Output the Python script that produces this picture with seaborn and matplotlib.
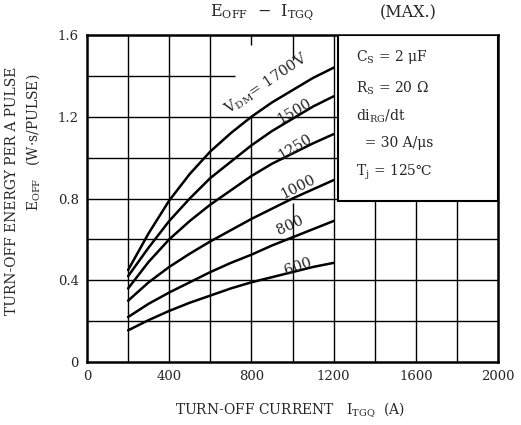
import matplotlib
matplotlib.use("Agg")
import matplotlib.pyplot as plt
import seaborn as sns
import pandas as pd
from matplotlib.patches import Rectangle

# ---- data ----
current = [200, 300, 400, 500, 600, 700, 800, 900, 1000, 1100, 1200]
e_1700 = [0.45, 0.63, 0.79, 0.92, 1.03, 1.12, 1.20, 1.27, 1.33, 1.39, 1.44]
e_1500 = [0.42, 0.56, 0.69, 0.80, 0.90, 0.98, 1.06, 1.13, 1.19, 1.25, 1.30]
e_1250 = [0.36, 0.49, 0.60, 0.69, 0.77, 0.84, 0.91, 0.97, 1.02, 1.07, 1.115]
e_1000 = [0.30, 0.39, 0.465, 0.53, 0.59, 0.645, 0.70, 0.75, 0.80, 0.845, 0.89]
e_800 = [0.22, 0.285, 0.34, 0.39, 0.44, 0.485, 0.525, 0.57, 0.61, 0.65, 0.69]
e_600 = [0.155, 0.205, 0.25, 0.29, 0.325, 0.36, 0.39, 0.415, 0.44, 0.465, 0.485]
voltages = ["1700", "1500", "1250", "1000", "800", "600"]
series = [e_1700, e_1500, e_1250, e_1000, e_800, e_600]
curve_labels = ["V$_{\\rm DM}$= 1700V", "1500", "1250", "1000", "800", "600"]
x_ticks = [0, 400, 800, 1200, 1600, 2000]
y_ticks = [0, 0.4, 0.8, 1.2, 1.6]
y_tick_labels = ["0", "0.4", "0.8", "1.2", "1.6"]
conditions = ["C$_{\\rm S}$ = 2 μF", "R$_{\\rm S}$ = 20 Ω", "di$_{\\rm RG}$/dt",
              "  = 30 A/μs", "T$_{\\rm j}$ = 125℃"]

rows = []
for v, s in zip(voltages, series):
    for i, e in zip(current, s):
        rows.append({"I": i, "E": e, "V": v})
df = pd.DataFrame(rows)

sns.set_style("white")
FONT = "DejaVu Serif"
plt.rcParams["font.family"] = [FONT]
plt.rcParams["mathtext.fontset"] = "custom"
plt.rcParams["mathtext.rm"] = FONT
plt.rcParams["mathtext.it"] = FONT

fig = plt.figure(figsize=(5.21, 4.25), dpi=100)
ax = fig.add_axes([87 / 521, 1 - 362 / 425, (498 - 87) / 521, (362 - 35) / 425])

sns.lineplot(data=df, x="I", y="E", hue="V", palette=["black"] * 6,
             legend=False, ax=ax, linewidth=1.8, zorder=4)

ax.set_xlim(0, 2000)
ax.set_ylim(0, 1.6)
ax.set_xticks(x_ticks)
ax.set_xticklabels([str(t) for t in x_ticks], fontsize=9.5)
ax.set_yticks(y_ticks)
ax.set_yticklabels(y_tick_labels, fontsize=9.5)
ax.tick_params(which="both", length=0, pad=6)
ax.grid(False)
for sp in ax.spines.values():
    sp.set_color("black")
    sp.set_linewidth(1.8)

# grid (as printed: a few segments erased around the curve labels)
gkw = dict(color="black", linewidth=1.0, zorder=1)
for k in range(1, 8):
    yy = 0.2 * k
    if abs(yy - 1.4) < 1e-6:
        ax.hlines(yy, 0, 720, **gkw)
    else:
        ax.hlines(yy, 0, 2000, **gkw)
for k in range(1, 10):
    xx = 200 * k
    if xx == 800:
        ax.vlines(xx, 0, 1.2, **gkw)
        ax.vlines(xx, 1.55, 1.6, **gkw)
    elif xx == 1000:
        ax.vlines(xx, 0, 0.78, **gkw)
        ax.vlines(xx, 1.48, 1.6, **gkw)
    else:
        ax.vlines(xx, 0, 1.6, **gkw)

# condition box
ax.add_patch(Rectangle((1221, 0.79), 779, 0.81, facecolor="white",
                       edgecolor="black", linewidth=1.5, zorder=3))
cond_y = [1.49, 1.34, 1.20, 1.07, 0.93]
for txt, yy in zip(conditions, cond_y):
    ax.text(1310, yy, txt, fontsize=10, va="center", ha="left", zorder=5)

# curve labels
lab_pos = [(870, 1.36, 34), (1010, 1.225, 30), (1010, 1.05, 31),
           (1025, 0.855, 27), (990, 0.67, 25), (1025, 0.465, 19)]
for txt, (xx, yy, rot) in zip(curve_labels, lab_pos):
    ax.text(xx, yy, txt, fontsize=10.5, rotation=rot, ha="center", va="center",
            rotation_mode="anchor", zorder=5)

ax.set_xlabel("")
ax.set_ylabel("")
fig.text(290 / 521, 1 - 410 / 425, "TURN-OFF CURRENT   I$_{\\rm TGQ}$  (A)",
         ha="center", va="center", fontsize=10)
fig.text(12 / 521, 1 - 191 / 425, "TURN-OFF ENERGY PER A PULSE", rotation=90,
         ha="center", va="center", fontsize=10)
fig.text(33 / 521, 1 - 142 / 425, "E$_{\\rm OFF}$   (W·s/PULSE)", rotation=90,
         ha="center", va="center", fontsize=10)
fig.text(262 / 521, 1 - 13 / 425, "E$_{\\rm OFF}$  −  I$_{\\rm TGQ}$",
         ha="center", va="center", fontsize=11.5)
fig.text(408 / 521, 1 - 13 / 425, "(MAX.)",
         ha="center", va="center", fontsize=11.5)

fig.savefig("out.png", dpi=100, facecolor="white")
